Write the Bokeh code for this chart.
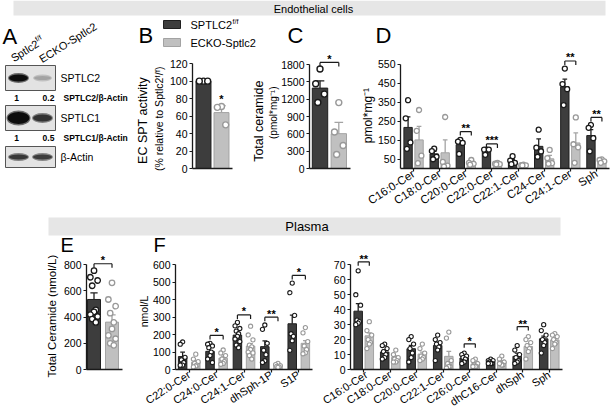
import math
from bokeh.plotting import figure
from bokeh.layouts import column, row
from bokeh.models import Range1d, FactorRange, FixedTicker, Title
from bokeh.core.properties import value
from bokeh.embed import file_html
from bokeh.resources import INLINE

FONT = "Liberation Sans"
DARK_FILL, DARK_LINE, DARK_PT = "#3d3d3d", "#1f1f1f", "#1a1a1a"
LIGHT_FILL, LIGHT_LINE, LIGHT_PT = "#c0c0c0", "#a3a3a3", "#999999"
AXIS_COLOR = "#1a1a1a"
BAND = "#e6e6e6"

# ------------------------------------------------------------------ data
section_titles = ["Endothelial cells", "Plasma"]
panel_letters = ["A", "B", "C", "D", "E", "F"]
legend_labels = ["SPTLC2", "ECKO-Sptlc2"]

blot_lanes = ["Sptlc2", "ECKO-Sptlc2"]
blot_rows = ["SPTLC2", "SPTLC1", "β-Actin"]
blot_intensity = [[1.0, 0.3], [1.0, 0.82], [0.8, 0.78]]
blot_thickness = [[7, 4], [12, 7], [5, 5]]
blot_width = [[19, 17], [22, 19], [19, 19]]
ratio_names = ["SPTLC2/β-Actin", "SPTLC1/β-Actin"]
ratio_values = [["1", "0.2"], ["1", "0.5"]]

b_title = ["EC SPT activity", "(% relative to Sptlc2ᶠ/ᶠ)"]
b_mean = [100, 64]
b_sem = [0, 8]
b_pts_ff = [100, 100, 100]
b_pts_ko = [71, 70, 50]
b_ticks = [0, 20, 40, 60, 80, 100, 120]
b_star, b_star_y = "*", 79

c_title = ["Total ceramide", "(pmol*mg⁻¹)"]
c_mean = [1394, 604]
c_sem = [127, 195]
c_pts_ff = [1725, 1470, 1290, 1145]
c_pts_ko = [1143, 632, 400, 243]
c_ticks = [0, 300, 600, 900, 1200, 1500, 1800]
c_sig, c_sig_y = "*", 1840

d_title = "pmol*mg⁻¹"
d_cats = ["C16:0-Cer", "C18:0-Cer", "C20:0-Cer", "C22:0-Cer", "C22:1-Cer", "C24-Cer", "C24:1-Cer", "Sph"]
d_ff_mean = [217, 77, 126, 93, 40, 117, 432, 174]
d_ff_sem = [56, 13, 12, 7, 9, 39, 40, 31]
d_ko_mean = [151, 83, 30, 25, 18, 51, 135, 40]
d_ko_sem = [72, 68, 6, 3, 2, 18, 53, 5]
d_ff_pts = [[361, 265, 138, 104], [105, 92, 62, 49], [151, 142, 135, 77], [100, 100, 100, 72],
            [65, 42, 30, 23], [205, 110, 90, 62], [528, 446, 419, 335], [230, 215, 160, 91]]
d_ko_pts = [[309, 199, 68, 28], [272, 35, 15, 10], [45, 30, 25, 20], [30, 25, 23, 22],
            [20, 18, 17, 16], [98, 55, 28, 25], [270, 128, 112, 30], [48, 45, 38, 30]]
d_ticks = [50, 150, 250, 350, 450, 550]
d_sig_cats = ["C20:0-Cer", "C22:0-Cer", "C24:1-Cer", "Sph"]
d_sig_text = ["**", "***", "**", "**"]
d_sig_y = [195, 130, 568, 270]

e_title = "Total Ceramide (nmol/L)"
e_mean = [535, 362]
e_sem = [50, 55]
e_pts_ff = [755, 705, 680, 640, 455, 440, 420, 405, 385, 360]
e_pts_ko = [662, 535, 484, 430, 360, 310, 260, 235, 200, 185]
e_ticks = [0, 200, 400, 600, 800]
e_sig, e_sig_y = "*", 808

f_title = "nmol/L"
f1_cats = ["C22:0-Cer", "C24:0-Cer", "C24:1-Cer", "dhSph-1P", "S1P"]
f1_ff_mean = [74, 104, 197, 131, 262]
f1_ff_sem = [25, 24, 14, 33, 50]
f1_ko_mean = [42, 65, 134, 22, 150]
f1_ko_sem = [8, 12, 14, 4, 16]
f1_ff_pts = [[158, 145, 70, 55, 40, 25, 25], [150, 145, 135, 125, 100, 80, 60, 40],
             [270, 250, 235, 220, 205, 190, 175, 160, 140, 125], [255, 230, 150, 110, 85, 50, 40],
             [495, 440, 310, 205, 190, 165, 110]]
f1_ko_pts = [[88, 60, 45, 35, 25, 20, 15], [112, 95, 80, 60, 45, 35, 30],
             [248, 198, 170, 140, 130, 115, 100, 95, 80, 60], [35, 28, 22, 18, 15, 12],
             [240, 210, 160, 135, 115, 95, 90]]
f1_ticks = [0, 100, 200, 300, 400, 500, 600]
f1_sig_cats = ["C24:0-Cer", "C24:1-Cer", "dhSph-1P", "S1P"]
f1_sig_text = ["*", "*", "**", "*"]
f1_sig_y = [195, 313, 300, 539]

f2_cats = ["C16:0-Cer", "C18:0-Cer", "C20:0-Cer", "C22:1-Cer", "C26:0-Cer", "dhC16-Cer", "dhSph", "Sph"]
f2_ff_mean = [39, 11.7, 13.9, 16.1, 7.7, 5.1, 8.8, 20.5]
f2_ff_sem = [5, 1.5, 2.2, 2, 1.1, 0.5, 2.1, 1.8]
f2_ko_mean = [22.5, 8.1, 10.3, 8.8, 3.7, 5.1, 15.4, 19.8]
f2_ko_sem = [2, 1, 1.3, 3.3, 0.8, 0.9, 1.8, 1.3]
f2_ff_pts = [[66, 50, 43, 33, 32, 31, 30], [17, 16, 14, 12, 10, 8, 7], [22, 20, 17, 14, 11, 8, 5],
             [23, 20, 18, 17, 15, 13, 6], [11, 10, 9, 8, 7, 5, 4], [7, 6, 6, 5, 4, 4, 4],
             [16, 13, 10, 8, 6, 5, 4], [30, 26, 23, 20, 18, 16, 11]]
f2_ko_pts = [[32, 26, 23, 20, 18, 17, 14], [13, 10, 8, 7, 6, 5, 5], [17, 14, 11, 9, 8, 7, 6],
             [25, 21, 6, 4, 2, 2, 1], [7, 6, 4, 3, 2, 2, 2], [9, 7, 5, 4, 3, 3, 4],
             [22, 20, 18, 16, 14, 12, 7], [24, 23, 22, 20, 18, 17, 14]]
f2_ticks = [0, 10, 20, 30, 40, 50, 60, 70]
f2_sig_cats = ["C16:0-Cer", "C26:0-Cer", "dhSph"]
f2_sig_text = ["**", "*", "**"]
f2_sig_y = [72, 17.2, 28.7]

# ------------------------------------------------------------------ helpers
OFFS = [0.0, -0.28, 0.28, -0.14, 0.14, 0.0, -0.28, 0.28, -0.14, 0.14]
EM = {' ': .278, '(': .333, ')': .333, '%': .889, '*': .389, '-': .333, '/': .278, ':': .278, '.': .278,
      'A': .667, 'B': .667, 'C': .722, 'E': .667, 'K': .667, 'L': .556, 'O': .778, 'P': .667, 'S': .667,
      'T': .611, 'a': .556, 'c': .5, 'd': .556, 'e': .556, 'f': .278, 'g': .556, 'i': .222, 'l': .222,
      'm': .833, 'n': .556, 'o': .556, 'p': .556, 'r': .333, 's': .5, 't': .278, 'v': .5, 'y': .5,
      'β': .573, 'ᶠ': .35, '⁻': .35, '¹': .333}


def tw(s, size):
    return sum(EM.get(ch, 0.556) for ch in s) * size


def base_fig(W, H, fl, fr, ft, fb, x_range, y_range, axes=True):
    kw = {} if axes else dict(x_axis_location=None, y_axis_location=None)
    p = figure(width=W, height=H, x_range=x_range, y_range=y_range, output_backend="svg",
               toolbar_location=None, min_border_left=fl, min_border_right=W - fr,
               min_border_top=ft, min_border_bottom=H - fb, **kw)
    p.outline_line_color = None
    p.grid.visible = False
    p.background_fill_color = "white"
    p.border_fill_color = "white"
    return p


def canvas(W, H, frame_h=None):
    fh = H if frame_h is None else frame_h
    return base_fig(W, H, 0, W, 0, fh, Range1d(0, W), Range1d(fh, 0), axes=False)


def ctext(p, x, y, text, size, align="left", angle=0, bold=False):
    # y is the vertical centre of the text line
    p.text(x=[x], y=[y], text=[text], angle=angle, angle_units="deg", text_align=align,
           text_baseline="middle", text_font=value(FONT), text_font_size=value(f"{size}px"),
           text_font_style=value("bold" if bold else "normal"), text_color="black")


def angled_parts(p, sx, sy, parts, ang):
    # (sx, sy): start of the baseline of the first part
    a = math.radians(ang)
    ux, uy = math.cos(a), -math.sin(a)
    px, py = -math.sin(a), -math.cos(a)
    d = 0.0
    for t, s, r in parts:
        rr = r + 0.35 * s
        ctext(p, sx + ux * d + px * rr, sy + uy * d + py * rr, t, s, angle=ang)
        d += tw(t, s)


def ytitle(p, text, size, center_fy, fb, standoff):
    off = (fb - center_fy) - tw(text, size) / 2
    p.add_layout(Title(text=text, align="left", offset=off, text_font=FONT, text_font_size=f"{size}px",
                       text_font_style="normal", text_color="black", standoff=standoff), "left")


def style_axes(p, ticks, T, tick_size=10.5, cat_angle=None, cat_size=11):
    ya = p.yaxis[0]
    ya.ticker = FixedTicker(ticks=ticks)
    ya.bounds = (0, T)
    xa = p.xaxis[0]
    for ax in (xa, ya):
        ax.axis_line_color = AXIS_COLOR
        ax.axis_line_width = 1.3
        ax.major_tick_line_color = AXIS_COLOR
        ax.major_tick_line_width = 1.2
        ax.major_tick_out = 3
        ax.major_tick_in = 0
        ax.minor_tick_line_color = None
        ax.major_label_text_font = FONT
        ax.major_label_text_color = "black"
    ya.major_label_text_font_size = f"{tick_size}px"
    ya.major_label_standoff = 2
    if cat_angle is None:
        xa.ticker = FixedTicker(ticks=[])
        xa.major_label_text_font_size = "0px"
    else:
        xa.major_label_orientation = math.radians(cat_angle)
        xa.major_label_text_font_size = f"{cat_size}px"
        xa.major_label_standoff = 1


def draw_groups(p, xpos, n, ff_mean, ff_sem, ko_mean, ko_sem, ff_pts, ko_pts, dodge, width, psize, plw):
    for sign, means, sems, ptss, fill, line, ptc in [
            (-1, ff_mean, ff_sem, ff_pts, DARK_FILL, DARK_LINE, DARK_PT),
            (1, ko_mean, ko_sem, ko_pts, LIGHT_FILL, LIGHT_LINE, LIGHT_PT)]:
        d = sign * dodge
        xc = [xpos(i, d) for i in range(n)]
        p.vbar(x=xc, top=means, width=width, fill_color=fill, line_color=line, line_width=1)
        tops = [m + s for m, s in zip(means, sems)]
        cw = width * 0.28
        p.segment(x0=xc, y0=means, x1=xc, y1=tops, line_color=line, line_width=1.3)
        p.segment(x0=[xpos(i, d - cw) for i in range(n)], y0=tops,
                  x1=[xpos(i, d + cw) for i in range(n)], y1=tops, line_color=line, line_width=1.3)
        px, py = [], []
        for i in range(n):
            for k, v in enumerate(ptss[i]):
                px.append(xpos(i, d + OFFS[k % len(OFFS)] * width))
                py.append(v)
        p.scatter(x=px, y=py, marker="circle", size=psize, fill_color="white", line_color=ptc, line_width=plw)


def stars(p, xs, ys, texts, scale, size, lift_px=3.5):
    p.text(x=xs, y=[y + lift_px / scale for y in ys], text=texts, text_align="center", text_baseline="middle",
           text_font=value(FONT), text_font_size=value(f"{size}px"), text_font_style=value("bold"),
           text_color="#000000")


def brackets(p, xpos, idxs, ys, texts, dodge, scale, size, lift_px=3.5):
    drop = 4 / scale
    xl = [xpos(i, -dodge) for i in idxs]
    xr = [xpos(i, dodge) for i in idxs]
    xm = [xpos(i, 0.0) for i in idxs]
    p.segment(x0=xl, y0=ys, x1=xr, y1=ys, line_color=AXIS_COLOR, line_width=1.2)
    p.segment(x0=xl, y0=ys, x1=xl, y1=[y - drop for y in ys], line_color=AXIS_COLOR, line_width=1.2)
    p.segment(x0=xr, y0=ys, x1=xr, y1=[y - drop for y in ys], line_color=AXIS_COLOR, line_width=1.2)
    stars(p, xm, ys, texts, scale, size, lift_px)


# ------------------------------------------------------------------ header 1
h1 = canvas(615, 18)
h1.quad(left=[13], right=[605], top=[0], bottom=[15], fill_color=BAND, line_color=None)
ctext(h1, 313, 8, section_titles[0], 11, align="center")

# ------------------------------------------------------------------ A: western blot
pa = canvas(133, 198, frame_h=150)
ctext(pa, 2, 17.5, panel_letters[0], 22)
angled_parts(pa, 13.3, 43.7, [(blot_lanes[0], 11, 0), ("f/f", 7, 5)], 32)
angled_parts(pa, 41.7, 44.7, [(blot_lanes[1], 11, 0)], 32)
box_y = [(47, 72), (87, 112), (128, 149)]
lane_x = [18, 42]
pa.quad(left=[5] * 3, right=[55] * 3, top=[b[0] for b in box_y], bottom=[b[1] for b in box_y],
        fill_color="#e3e3e3", line_color="#555555", line_width=1)
for ri, (y0, y1) in enumerate(box_y):
    cy = (y0 + y1) / 2
    for li in range(2):
        inten = blot_intensity[ri][li]
        g = int(228 - 215 * inten)
        halo = int(228 - 120 * inten)
        pa.ellipse(x=[lane_x[li]], y=[cy], width=[blot_width[ri][li] + 2], height=[blot_thickness[ri][li] + 3],
                   fill_color=f"#{halo:02x}{halo:02x}{halo:02x}", line_color=None)
        pa.ellipse(x=[lane_x[li]], y=[cy], width=[blot_width[ri][li]], height=[blot_thickness[ri][li]],
                   fill_color=f"#{g:02x}{g:02x}{g:02x}", line_color=None)
    ctext(pa, 60, cy, blot_rows[ri], 10.5)
for k, yy in enumerate([79.5, 119.5]):
    ctext(pa, 16, yy, ratio_values[k][0], 8.5, align="center", bold=True)
    ctext(pa, 48, yy, ratio_values[k][1], 8.5, align="center", bold=True)
    ctext(pa, 63, yy, ratio_names[k], 8.5, bold=True)

# ------------------------------------------------------------------ strip above B, C, D
st = canvas(482, 32)
ctext(st, 5, 16.5, panel_letters[1], 22)
ctext(st, 154, 16.5, panel_letters[2], 22)
ctext(st, 242, 16.5, panel_letters[3], 22)
st.quad(left=[30, 30], right=[47, 47], top=[2, 20], bottom=[10, 28],
        fill_color=[DARK_FILL, LIGHT_FILL], line_color=[DARK_LINE, LIGHT_LINE], line_width=1)
ctext(st, 57, 6, legend_labels[0], 11)
ctext(st, 57, 24, legend_labels[1], 11)
ctext(st, 57 + tw(legend_labels[0], 11) + 0.5, 2.5, "f/f", 7)

# ------------------------------------------------------------------ row 1 plots
RH, RFB = 166, 118

# B
RB = 135.1
pb = base_fig(115, RH, 59, 99, 0, RFB, Range1d(0.389, 2.611), Range1d(0, RB))
style_axes(pb, b_ticks, 120)
xb = lambda i, off: 1.5 + off
draw_groups(pb, xb, 1, [b_mean[0]], [b_sem[0]], [b_mean[1]], [b_sem[1]], [b_pts_ff], [b_pts_ko],
            0.5, 0.83, 6, 1.4)
stars(pb, [2.0], [b_star_y], [b_star], RFB / RB, 11, lift_px=0)
ytitle(pb, b_title[1], 10.5, 67, RFB, 3)
ytitle(pb, b_title[0], 12.5, 70, RFB, 0)

# C
RC = 2046
pc = base_fig(110, RH, 61, 102, 0, RFB, Range1d(0.441, 2.622), Range1d(0, RC))
style_axes(pc, c_ticks, 1800)
xcf = lambda i, off: 1.5 + off
draw_groups(pc, xcf, 1, [c_mean[0]], [c_sem[0]], [c_mean[1]], [c_sem[1]], [c_pts_ff], [c_pts_ko],
            0.5, 0.82, 6, 1.4)
brackets(pc, xcf, [0], [c_sig_y], [c_sig], 0.5, RFB / RC, 11)
ytitle(pc, c_title[1], 10, 62, RFB, 0)
ytitle(pc, c_title[0], 12.5, 70, RFB, 0)

# D
RD = 623.4
pd_ = base_fig(257, RH, 39, 251, 0, RFB, FactorRange(factors=d_cats, range_padding=0), Range1d(0, RD))
style_axes(pd_, d_ticks, 550, cat_angle=33, cat_size=11.5)
xd = lambda i, off: (d_cats[i], off)
draw_groups(pd_, xd, len(d_cats), d_ff_mean, d_ff_sem, d_ko_mean, d_ko_sem, d_ff_pts, d_ko_pts,
            0.21, 0.32, 5, 1.3)
brackets(pd_, xd, [d_cats.index(c) for c in d_sig_cats], d_sig_y, d_sig_text, 0.21, RFB / RD, 11)
ytitle(pd_, d_title, 12, 65, RFB, 0)

# ------------------------------------------------------------------ header 2 (band + letters E, F)
h2 = canvas(615, 38)
h2.quad(left=[48], right=[560], top=[1], bottom=[19], fill_color=BAND, line_color=None)
ctext(h2, 306.5, 10, section_titles[1], 13, align="center")
ctext(h2, 60, 28, panel_letters[4], 20)
ctext(h2, 153, 28, panel_letters[5], 20)

# ------------------------------------------------------------------ row 2 plots
SH, SFB = 162, 115

# E
RE = 878.7
pe = base_fig(135, SH, 86, 122, 0, SFB, Range1d(0.583, 2.583), Range1d(0, RE))
style_axes(pe, e_ticks, 800)
xe = lambda i, off: 1.5 + off
draw_groups(pe, xe, 1, [e_mean[0]], [e_sem[0]], [e_mean[1]], [e_sem[1]], [e_pts_ff], [e_pts_ko],
            0.5, 0.72, 5.5, 1.3)
brackets(pe, xe, [0], [e_sig_y], [e_sig], 0.5, SFB / RE, 11)
ytitle(pe, e_title, 11.5, 61, SFB, 6)

# F1
RF1 = 659
pf1 = base_fig(185, SH, 40, 177, 0, SFB, FactorRange(factors=f1_cats, range_padding=0), Range1d(0, RF1))
style_axes(pf1, f1_ticks, 600, cat_angle=33, cat_size=11)
xf1 = lambda i, off: (f1_cats[i], off)
draw_groups(pf1, xf1, len(f1_cats), f1_ff_mean, f1_ff_sem, f1_ko_mean, f1_ko_sem, f1_ff_pts, f1_ko_pts,
            0.24, 0.31, 4.2, 1.1)
brackets(pf1, xf1, [f1_cats.index(c) for c in f1_sig_cats], f1_sig_y, f1_sig_text, 0.24, SFB / RF1, 11)
ytitle(pf1, f_title, 10.5, 57, SFB, 0)

# F2
RF2 = 76.9
pf2 = base_fig(295, SH, 30, 242, 0, SFB, FactorRange(factors=f2_cats, range_padding=0), Range1d(0, RF2))
style_axes(pf2, f2_ticks, 70, cat_angle=33, cat_size=11)
xf2 = lambda i, off: (f2_cats[i], off)
draw_groups(pf2, xf2, len(f2_cats), f2_ff_mean, f2_ff_sem, f2_ko_mean, f2_ko_sem, f2_ff_pts, f2_ko_pts,
            0.21, 0.32, 4.2, 1.1)
brackets(pf2, xf2, [f2_cats.index(c) for c in f2_sig_cats], f2_sig_y, f2_sig_text, 0.21, SFB / RF2, 11,
         lift_px=2.5)

layout = column(h1, row(pa, column(st, row(pb, pc, pd_))), h2, row(pe, pf1, pf2))
open("out.html", "w").write(file_html(layout, INLINE, "Figure"))
